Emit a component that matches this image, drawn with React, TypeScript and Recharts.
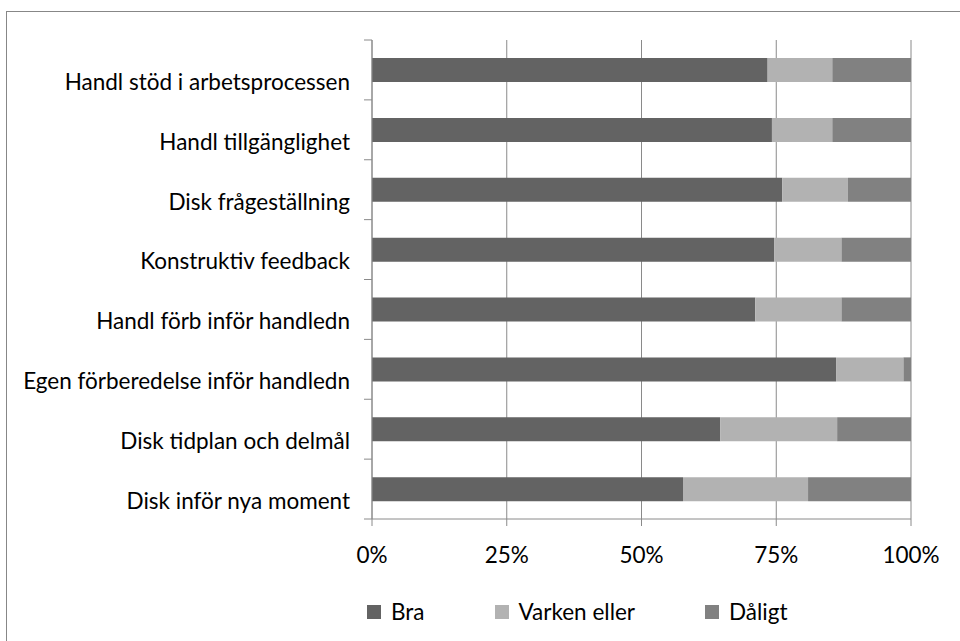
import { BarChart, Bar, XAxis, YAxis, CartesianGrid } from 'recharts'

const CATEGORIES = [
  'Handl stöd i arbetsprocessen',
  'Handl tillgänglighet',
  'Disk frågeställning',
  'Konstruktiv feedback',
  'Handl förb inför handledn',
  'Egen förberedelse inför handledn',
  'Disk tidplan och delmål',
  'Disk inför nya moment',
]

const BRA = [73.4, 74.2, 76.1, 74.6, 71.1, 86.1, 64.6, 57.7]
const VARKEN = [12.0, 11.2, 12.2, 12.5, 16.0, 12.5, 21.7, 23.2]
const DALIGT = [14.6, 14.6, 11.7, 12.9, 12.9, 1.4, 13.7, 19.1]

const X_TICKS = [0, 25, 50, 75, 100]

const SERIES = [
  { key: 'bra', name: 'Bra', color: '#636363' },
  { key: 'varken', name: 'Varken eller', color: '#b2b2b2' },
  { key: 'daligt', name: 'Dåligt', color: '#818181' },
]

const FONT = 'Lato, "Liberation Sans", sans-serif'
const FS = 22.5
const AXIS = '#8a8a8a'

// plot box
const W = 960
const H = 641
const TOP = 40
const BOTTOM = 519
const LEFT = 372
const RIGHT = 911
const BAND = (BOTTOM - TOP) / CATEGORIES.length

const data = CATEGORIES.map((name, i) => ({
  name,
  bra: BRA[i],
  varken: VARKEN[i],
  daligt: DALIGT[i],
}))

// category label + Excel-style tick marks on band edges
function CategoryTick(props: any) {
  const { y, payload, index } = props
  const top = y - BAND / 2
  return (
    <g>
      <line x1={LEFT - 8} x2={LEFT} y1={top} y2={top} stroke={AXIS} />
      {index === CATEGORIES.length - 1 && (
        <line x1={LEFT - 8} x2={LEFT} y1={top + BAND} y2={top + BAND} stroke={AXIS} />
      )}
      <text x={350} y={y + 12} dy="0.35em" textAnchor="end" fontSize={FS} fontFamily={FONT} fill="#000">
        {payload.value}
      </text>
    </g>
  )
}

function PercentTick(props: any) {
  const { x, payload } = props
  return (
    <text x={x} y={555} dy="0.35em" textAnchor="middle" fontSize={FS} fontFamily={FONT} fill="#000">
      {`${payload.value}%`}
    </text>
  )
}

export default function App() {
  return (
    <div style={{ position: 'absolute', left: 0, top: 0, width: W, height: H, background: '#fff', overflow: 'hidden' }}>
      {/* chart frame, right/bottom edges fall outside the picture */}
      <div style={{ position: 'absolute', left: 6, top: 11, width: 1000, height: 700, borderLeft: '1px solid #878787', borderTop: '1px solid #878787' }} />
      <BarChart
        width={W}
        height={H}
        data={data}
        layout="vertical"
        barSize={24}
        margin={{ top: TOP, right: W - RIGHT, bottom: H - BOTTOM - 60, left: 0 }}
        style={{ position: 'absolute', left: 0, top: 0 }}
      >
        <CartesianGrid horizontal={false} stroke={AXIS} strokeWidth={1} />
        <XAxis
          type="number"
          domain={[0, 100]}
          ticks={X_TICKS}
          interval={0}
          height={60}
          tickSize={7}
          stroke={AXIS}
          tickLine={{ stroke: AXIS }}
          tick={<PercentTick />}
        />
        <YAxis
          type="category"
          dataKey="name"
          width={LEFT}
          stroke={AXIS}
          tickLine={false}
          interval={0}
          tick={<CategoryTick />}
        />
        {SERIES.map(s => (
          <Bar key={s.key} dataKey={s.key} name={s.name} stackId="a" fill={s.color} isAnimationActive={false} />
        ))}
      </BarChart>
      {/* legend */}
      <div style={{ position: 'absolute', left: 367, top: 598, display: 'flex', alignItems: 'center', fontFamily: FONT, fontSize: FS, color: '#000' }}>
        {SERIES.map(s => (
          <div key={s.key} style={{ display: 'flex', alignItems: 'center', marginRight: 70 }}>
            <span style={{ display: 'inline-block', width: 14, height: 14, background: s.color, marginRight: 10 }} />
            <span>{s.name}</span>
          </div>
        ))}
      </div>
    </div>
  )
}
